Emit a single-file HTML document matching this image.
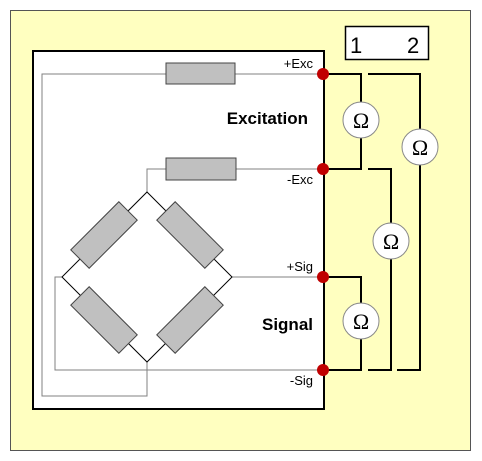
<!DOCTYPE html>
<html><head><meta charset="utf-8"><style>
html,body{margin:0;padding:0;background:#fff;width:482px;height:461px;overflow:hidden}
svg{display:block}
text{font-family:"Liberation Sans",Arial,sans-serif}
</style></head><body>
<svg width="482" height="461" viewBox="0 0 482 461" xmlns="http://www.w3.org/2000/svg">
<rect x="10.5" y="10.5" width="460" height="440" fill="#FFFFC0" stroke="#555" stroke-width="1"/>
<rect x="33" y="51" width="291" height="358" fill="#fff" stroke="#000" stroke-width="2"/>
<rect x="345.5" y="26.5" width="83" height="33" fill="#fff" stroke="#000" stroke-width="1.5"/>
<text x="350" y="53" font-size="22">1</text>
<text x="407" y="53" font-size="22">2</text>
<g fill="none" stroke="#808080" stroke-width="1">
<polyline points="323,74 42,74 42,396 147,396 147,362"/>
<polyline points="323,169 147,169 147,192"/>
<polyline points="323,277 232,277"/>
<polyline points="323,370 55,370 55,277 62,277"/>
</g>
<polygon points="147,192 232,277 147,362 62,277" fill="none" stroke="#000" stroke-width="1"/>
<g fill="#C0C0C0" stroke="#444" stroke-width="1">
<rect x="166" y="63" width="69" height="21"/>
<rect x="166" y="158" width="70" height="22"/>
<rect x="-34" y="-13" width="68" height="26" transform="translate(104,235) rotate(-45)"/>
<rect x="-34" y="-13" width="68" height="26" transform="translate(190,235) rotate(45)"/>
<rect x="-34" y="-13" width="68" height="26" transform="translate(104,320) rotate(45)"/>
<rect x="-34" y="-13" width="68" height="26" transform="translate(190,320) rotate(-45)"/>
</g>
<g fill="none" stroke="#000" stroke-width="2">
<polyline points="323,74 361,74 361,102"/>
<polyline points="361,138 361,169 323,169"/>
<polyline points="368,74 420,74 420,129"/>
<polyline points="420,165 420,370 397,370"/>
<polyline points="368,169 391,169 391,223"/>
<polyline points="391,259 391,370 368,370"/>
<polyline points="323,277 361,277 361,303"/>
<polyline points="361,339 361,370 323,370"/>
</g>
<g fill="#fff" stroke="#888" stroke-width="1">
<circle cx="361" cy="120" r="18"/>
<circle cx="420" cy="147" r="18"/>
<circle cx="391" cy="241" r="18"/>
<circle cx="361" cy="321" r="18"/>
</g>
<g font-size="22" text-anchor="middle" fill="#000">
<text x="361" y="128" style="font-family:'Liberation Serif',serif">Ω</text>
<text x="420" y="155" style="font-family:'Liberation Serif',serif">Ω</text>
<text x="391" y="249" style="font-family:'Liberation Serif',serif">Ω</text>
<text x="361" y="329" style="font-family:'Liberation Serif',serif">Ω</text>
</g>
<g fill="#C00000">
<circle cx="323" cy="74" r="6"/>
<circle cx="323" cy="169" r="6"/>
<circle cx="323" cy="277" r="6"/>
<circle cx="323" cy="370" r="6"/>
</g>
<g font-size="13" text-anchor="end">
<text x="313" y="68">+Exc</text>
<text x="313" y="184">-Exc</text>
<text x="313" y="271">+Sig</text>
<text x="313" y="385">-Sig</text>
</g>
<g font-size="17" font-weight="bold" text-anchor="end">
<text x="308" y="124">Excitation</text>
<text x="313" y="330">Signal</text>
</g>
</svg>
</body></html>
